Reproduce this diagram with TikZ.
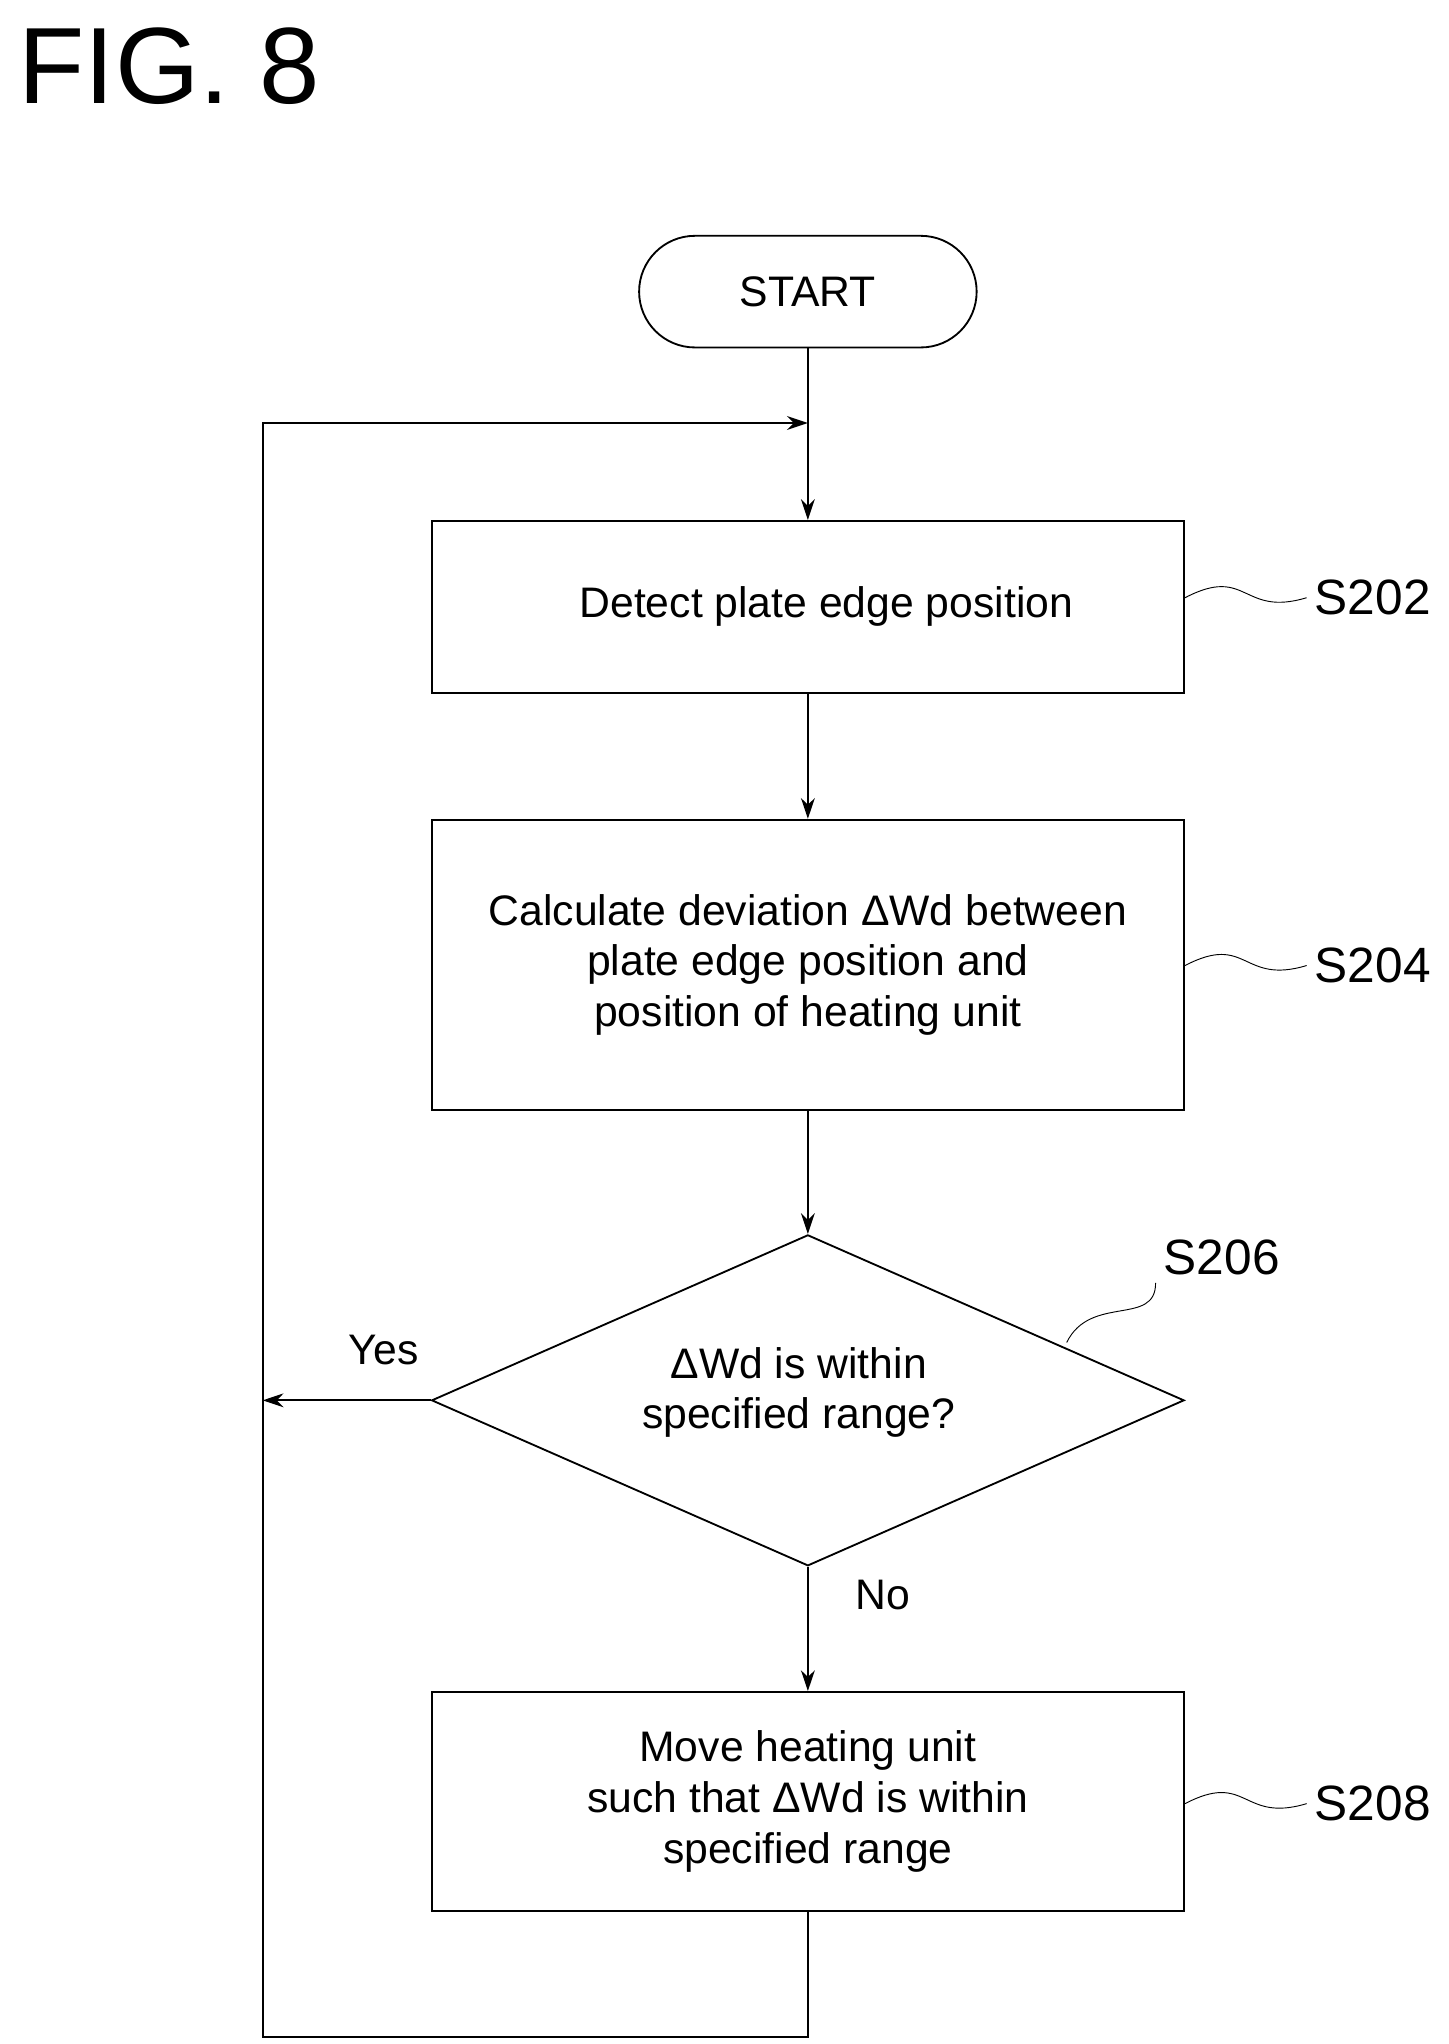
\documentclass[tikz,border=0pt]{standalone}
\usepackage{fontspec}
\setmainfont{Liberation Sans}
\usetikzlibrary{shapes.geometric, arrows.meta, positioning, calc}

\begin{document}
\begin{tikzpicture}[x=0.02cm, y=-0.02cm, font=\fontsize{18.5}{22}\selectfont,
    process/.style={draw, thick, minimum width=11.46cm, align=center, inner sep=0pt},
    flow/.style={-{Stealth[length=9pt, width=6pt]}, thick},
    tag/.style={font=\fontsize{21.5}{25}\selectfont}]
    \useasboundingbox (0,0) rectangle (1103,1556);

    \node[font=\fontsize{47}{50}\selectfont, anchor=west] (fig) at (8,50) {FIG. 8};

    \node[draw, thick, rounded corners=0.85cm, minimum width=5.14cm, minimum height=1.7cm] (start) at (615,222) {START};
    \node[process, minimum height=2.62cm] (detect) at (615,462) {\hspace{16pt}Detect plate edge position};
    \node[process, minimum height=4.42cm] (calc) at (615,734.5) {Calculate deviation ΔWd between\\plate edge position and\\position of heating unit};
    \node[draw, thick, diamond, minimum width=11.46cm, minimum height=5.04cm, inner sep=0pt] (check) at (615,1066) {};
    \node[align=center] (checktext) at (608,1060) {ΔWd is within\\specified range?};
    \node[process, minimum height=3.34cm] (move) at (615,1371.5) {Move heating unit\\such that ΔWd is within\\specified range};

    \coordinate (join) at (615,322);
    \coordinate (back) at (200,1066);

    \draw[thick] (start) -- (join);
    \draw[flow] (join) -- (detect);
    \draw[flow] (detect) -- (calc);
    \draw[flow] (calc) -- (check);
    \draw[flow] (check) -- (move);
    \draw[flow] (check.west) -- (back);
    \draw[flow] (move.south) -- ++(0,95) -| (200,322) -- (join);
    \node (no) at (672,1214) {No};
    \node (yes) at (292,1028) {Yes};

    % step labels
    \node[tag] (s202) at (1045,455) {S202};
    \node[tag] (s204) at (1045,735) {S204};
    \node[tag] (s206) at (930,957) {S206};
    \node[tag] (s208) at (1045,1373) {S208};
    \draw (detect.east |- 0,455) .. controls (950,430) and (945,470) .. (s202.west);
    \draw (calc.east |- 0,735) .. controls (950,710) and (945,750) .. (s204.west);
    \draw (move.east |- 0,1373) .. controls (950,1348) and (945,1388) .. (s208.west);
    \draw (812,1022) .. controls (830,985) and (880,1010) .. (s206.south west);
\end{tikzpicture}
\end{document}
